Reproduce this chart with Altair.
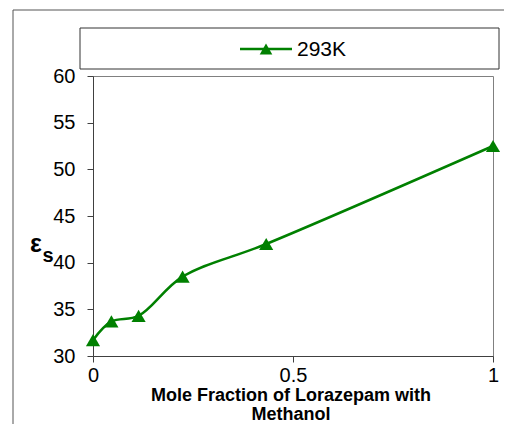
import altair as alt
import pandas as pd

# ---- data ----
mole_fraction = [0.0, 0.046, 0.114, 0.224, 0.433, 1.0]
eps_s = [31.7, 33.7, 34.3, 38.5, 42.0, 52.5]
series_label = "293K"
x_ticks = [0, 0.5, 1]
y_ticks = [30, 35, 40, 45, 50, 55, 60]
x_title_lines = ["Mole Fraction of Lorazepam with", "Methanol"]
y_title_main = "ε"
y_title_sub = "s"

df = pd.DataFrame({"x": mole_fraction, "y": eps_s})
one = pd.DataFrame({"a": [0]})

GREEN = "#008000"
FONT = "Liberation Sans"
AX = "#404040"
TICK_FS = 20
TITLE_FS = 18

x_enc = alt.X(
    "x:Q",
    scale=alt.Scale(domain=[0, 1], nice=False, zero=False),
    axis=alt.Axis(values=x_ticks, format="~g", title=None, grid=False,
                  labelFontSize=TICK_FS, labelColor="black", labelFont=FONT,
                  tickSize=6, labelPadding=3, domainColor=AX, tickColor=AX,
                  labelFlush=False),
)
y_enc = alt.Y(
    "y:Q",
    scale=alt.Scale(domain=[30, 60], nice=False, zero=False),
    axis=alt.Axis(values=y_ticks, title=None, grid=False,
                  labelFontSize=TICK_FS, labelColor="black", labelFont=FONT,
                  tickSize=6, labelPadding=12, domainColor=AX, tickColor=AX),
)

# outer frame (left and top edges visible)
frame_left = alt.Chart(one).mark_rule(color="#555555", strokeWidth=1).encode(
    x=alt.value(-80), y=alt.value(-66), y2=alt.value(400))
frame_top = alt.Chart(one).mark_rule(color="#555555", strokeWidth=1).encode(
    x=alt.value(-80), x2=alt.value(430), y=alt.value(-66))

# legend box
leg_box = alt.Chart(one).mark_rect(fill="white", stroke="#333333", strokeWidth=1).encode(
    x=alt.value(-13), x2=alt.value(406), y=alt.value(-48), y2=alt.value(-7))
leg_line = alt.Chart(one).mark_rule(color=GREEN, strokeWidth=2.5).encode(
    x=alt.value(147), x2=alt.value(199), y=alt.value(-27))
leg_pt = alt.Chart(one).mark_point(shape="triangle-up", filled=True, size=160,
                                    color=GREEN, opacity=1).encode(
    x=alt.value(173), y=alt.value(-27))
leg_txt = alt.Chart(pd.DataFrame({"t": [series_label]})).mark_text(
    align="left", baseline="alphabetic", fontSize=21, font=FONT, color="black").encode(
    x=alt.value(204), y=alt.value(-20), text="t:N")

# y-axis title (epsilon with subscript s)
y_t1 = alt.Chart(pd.DataFrame({"t": [y_title_main]})).mark_text(
    align="center", baseline="alphabetic", fontSize=25, fontWeight="bold",
    font=FONT, color="black").encode(x=alt.value(-57), y=alt.value(176), text="t:N")
y_t2 = alt.Chart(pd.DataFrame({"t": [y_title_sub]})).mark_text(
    align="center", baseline="alphabetic", fontSize=20, fontWeight="bold",
    font=FONT, color="black").encode(x=alt.value(-45), y=alt.value(186), text="t:N")

# x-axis title, two lines
x_t1 = alt.Chart(pd.DataFrame({"t": [x_title_lines[0]]})).mark_text(
    align="center", baseline="alphabetic", fontSize=TITLE_FS, fontWeight="bold",
    font=FONT, color="black").encode(x=alt.value(198), y=alt.value(325), text="t:N")
x_t2 = alt.Chart(pd.DataFrame({"t": [x_title_lines[1]]})).mark_text(
    align="center", baseline="alphabetic", fontSize=TITLE_FS, fontWeight="bold",
    font=FONT, color="black").encode(x=alt.value(198), y=alt.value(344), text="t:N")

line = alt.Chart(df).mark_line(color=GREEN, strokeWidth=2.5,
                               interpolate="catmull-rom").encode(x_enc, y_enc)
pts = alt.Chart(df).mark_point(shape="triangle-up", filled=True, size=200,
                               color=GREEN, opacity=1).encode(x_enc, y_enc)

chart = alt.layer(
    frame_left, frame_top, leg_box, leg_line, leg_pt, leg_txt,
    y_t1, y_t2, x_t1, x_t2, line, pts
).properties(
    width=400, height=280,
    autosize=alt.AutoSizeParams(type="none"),
    padding={"left": 85, "top": 68, "right": 11, "bottom": 68},
    background="white",
).configure_view(stroke="#808080", strokeWidth=1)

chart.save("out.html", embed_options={"renderer": "svg", "actions": False})
